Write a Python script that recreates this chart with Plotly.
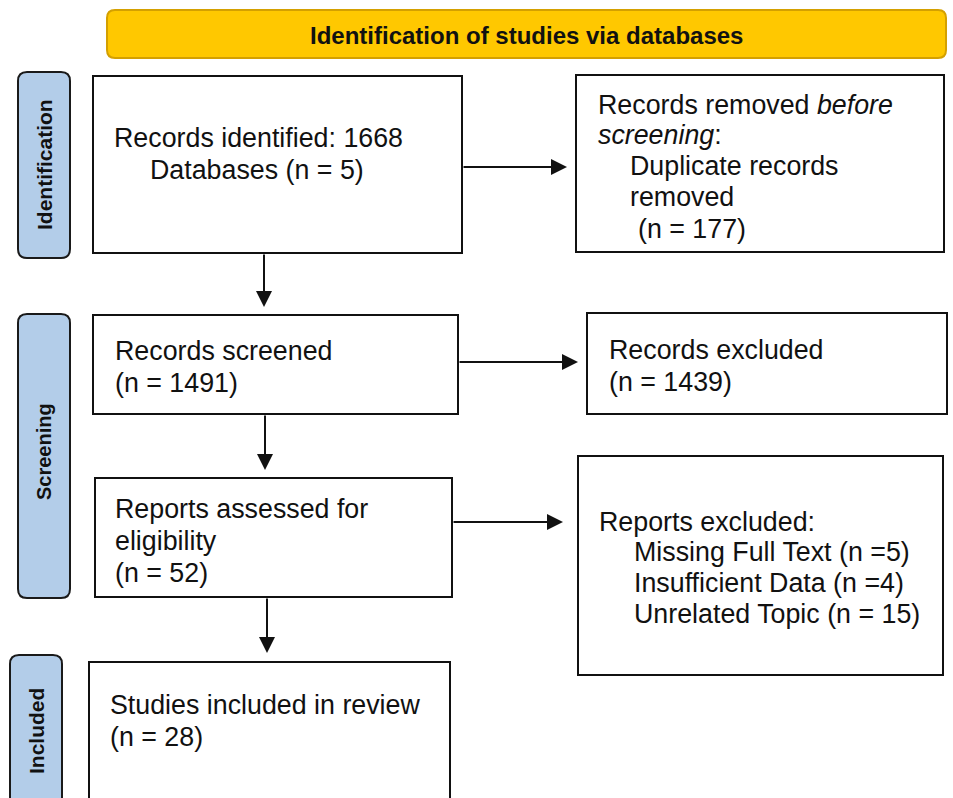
import plotly.graph_objects as go

# ---- data (PRISMA counts and labels) ----
stage_labels = ["Identification", "Screening", "Included"]
header_title = "Identification of studies via databases"
n_databases = 5
n_identified = 1668
n_duplicates = 177
n_screened = 1491
n_excluded = 1439
n_assessed = 52
exclusion_reasons = ["Missing Full Text", "Insufficient Data", "Unrelated Topic"]
exclusion_counts = [5, 4, 15]
exclusion_fmt = ["(n ={})", "(n ={})", "(n = {})"]
n_included = 28

# ---- layout geometry (pixel space) ----
W, H = 953, 798
FONT = "Liberation Sans, Arial, sans-serif"
FS = 26.8

fig = go.Figure()
shapes = []
annotations = []


def rounded(x0, y0, x1, y1, r, fill, line, lw):
    p = (f"M {x0+r},{y0} L {x1-r},{y0} Q {x1},{y0} {x1},{y0+r} "
         f"L {x1},{y1-r} Q {x1},{y1} {x1-r},{y1} L {x0+r},{y1} "
         f"Q {x0},{y1} {x0},{y1-r} L {x0},{y0+r} Q {x0},{y0} {x0+r},{y0} Z")
    shapes.append(dict(type="path", path=p, xref="x", yref="y",
                       fillcolor=fill, line=dict(color=line, width=lw), layer="below"))


def box(x0, y0, x1, y1):
    shapes.append(dict(type="rect", x0=x0, y0=y0, x1=x1, y1=y1, xref="x", yref="y",
                       fillcolor="white", line=dict(color="#111111", width=2), layer="below"))


def txt(x, y, s, size=FS, bold=False, anchor="left", angle=0):
    annotations.append(dict(x=x, y=y, xref="x", yref="y", text=(f"<b>{s}</b>" if bold else s),
                            showarrow=False, xanchor=anchor, yanchor="middle",
                            textangle=angle, align="left",
                            font=dict(family=FONT, size=size, color="#111111")))


def arrow(x0, y0, x1, y1):
    annotations.append(dict(x=x1, y=y1, ax=x0, ay=y0, xref="x", yref="y", axref="x", ayref="y",
                            text="", showarrow=True, arrowhead=2, arrowsize=1.6,
                            arrowwidth=2, arrowcolor="#111111", standoff=0))


# header
rounded(107, 10, 946, 58, 8, "#FFC800", "#D4A000", 2)
txt(526, 35, header_title, size=24, bold=True, anchor="center")

# side stage labels
side_boxes = [(18, 72, 70, 258), (18, 314, 70, 598), (10, 655, 62, 830)]
side_centers = [165, 452, 731]
side_sizes = [21, 20, 21]
for (x0, y0, x1, y1), cy, lab, sz in zip(side_boxes, side_centers, stage_labels, side_sizes):
    rounded(x0, y0, x1, y1, 9, "#B3CDE9", "#1a1a1a", 2)
    txt((x0 + x1) / 2, cy, lab, size=sz, bold=True, anchor="center", angle=-90)

# boxes
box(93, 76, 462, 253)
txt(112, 138, f"Records identified: {n_identified}")
txt(148, 170, f"Databases (n = {n_databases})")

box(576, 75, 944, 252)
txt(596, 105, "Records removed <i>before</i>")
txt(596, 135, "<i>screening</i>:")
txt(628, 166, "Duplicate records")
txt(628, 197, "removed")
txt(636, 229, f"(n = {n_duplicates})")

box(93, 315, 458, 414)
txt(113, 351, "Records screened")
txt(113, 383, f"(n = {n_screened})")

box(587, 313, 947, 414)
txt(607, 350, "Records excluded")
txt(607, 382, f"(n = {n_excluded})")

box(95, 478, 452, 597)
txt(113, 509, "Reports assessed for")
txt(113, 541, "eligibility")
txt(113, 573, f"(n = {n_assessed})")

box(578, 456, 943, 675)
txt(597, 522, "Reports excluded:")
for i, (r, c, f) in enumerate(zip(exclusion_reasons, exclusion_counts, exclusion_fmt)):
    txt(632, 552 + 31 * i, f"{r} {f.format(c)}")

box(89, 662, 450, 830)
txt(108, 705, "Studies included in review")
txt(108, 737, f"(n = {n_included})")

# arrows
arrow(264, 253, 264, 307)
arrow(462, 167, 567, 167)
arrow(458, 362, 578, 362)
arrow(265, 414, 265, 470)
arrow(452, 522, 563, 522)
arrow(267, 597, 267, 653)

fig.update_layout(
    width=W, height=H, margin=dict(l=0, r=0, t=0, b=0),
    paper_bgcolor="white", plot_bgcolor="white",
    xaxis=dict(range=[0, W], visible=False, fixedrange=True),
    yaxis=dict(range=[H, 0], visible=False, fixedrange=True),
    shapes=shapes, annotations=annotations, showlegend=False,
)

fig.write_html(
    "out.html",
    config={"displayModeBar": False},
    post_script="document.body.style.margin='0';document.body.style.overflow='hidden';",
)
